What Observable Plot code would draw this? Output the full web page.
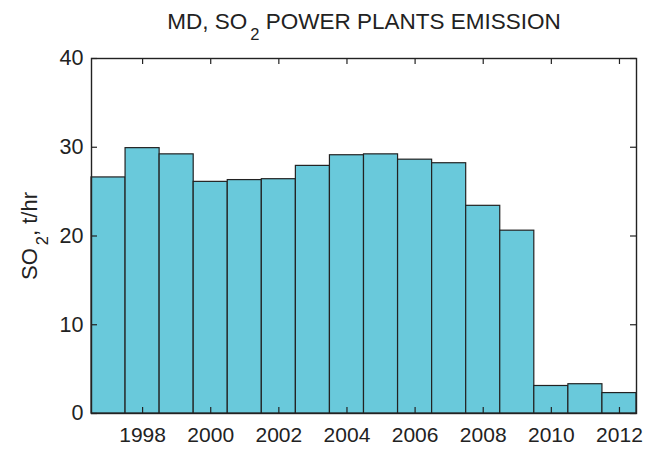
<!DOCTYPE html>
<html>
<head>
<meta charset="utf-8">
<script src="https://cdn.jsdelivr.net/npm/d3@7"></script>
<script src="https://cdn.jsdelivr.net/npm/@observablehq/plot@0.6"></script>
<style>
  html, body { margin: 0; padding: 0; background: #fff; }
  #chart svg { display: block; }
</style>
</head>
<body>
<div id="chart"></div>
<script>
// ---- data ----
const years = [1997, 1998, 1999, 2000, 2001, 2002, 2003, 2004, 2005, 2006, 2007, 2008, 2009, 2010, 2011, 2012];
const so2 = [26.6, 29.9, 29.2, 26.1, 26.3, 26.4, 27.9, 29.1, 29.2, 28.6, 28.2, 23.4, 20.6, 3.1, 3.3, 2.3];
const xTicks = [1998, 2000, 2002, 2004, 2006, 2008, 2010, 2012];
const yTicks = [0, 10, 20, 30, 40];
const titleText = "MD, SO2 POWER PLANTS EMISSION";
const yLabelText = "SO2, t/hr";

const data = years.map((year, i) => ({year, value: so2[i]}));

const W = 646, H = 450;
const mL = 91, mR = 10, mT = 58, mB = 37;
const fw = W - mL - mR, fh = H - mT - mB;
const tickLen = 6;
const ink = "#222";
const font = "'Liberation Sans', Arial, Helvetica, sans-serif";

const chart = Plot.plot({
  width: W,
  height: H,
  marginLeft: mL,
  marginRight: mR,
  marginTop: mT,
  marginBottom: mB,
  style: {fontFamily: font, fontSize: "21px", color: ink, background: "#fff"},
  x: {domain: [1996.5, 2012.5], axis: null},
  y: {domain: [0, 40], axis: null},
  marks: [
    Plot.rectY(data, {x1: d => d.year - 0.5, x2: d => d.year + 0.5, y1: 0, y2: "value",
      fill: "#69c9db", stroke: ink, strokeWidth: 1.2}),
    Plot.tickX(xTicks, {x: d => d, insetTop: fh - tickLen, stroke: ink, strokeWidth: 1.2}),
    Plot.tickX(xTicks, {x: d => d, insetBottom: fh - tickLen, stroke: ink, strokeWidth: 1.2}),
    Plot.tickY(yTicks, {y: d => d, insetRight: fw - tickLen, stroke: ink, strokeWidth: 1.2}),
    Plot.tickY(yTicks, {y: d => d, insetLeft: fw - tickLen, stroke: ink, strokeWidth: 1.2}),
    Plot.frame({stroke: ink, strokeWidth: 1.4}),
    Plot.axisX(xTicks, {tickSize: 0, tickPadding: 14, tickFormat: d => String(d), label: null, fontSize: 21, fill: ink}),
    Plot.axisY(yTicks, {tickSize: 0, tickPadding: 8, tickFormat: d => String(d), label: null, fontSize: 21.5, fill: ink}),
    Plot.text([titleText], {frameAnchor: "top", textAnchor: "middle", lineAnchor: "bottom", dy: -30, fontSize: 22.5, fill: ink}),
    Plot.text([yLabelText], {frameAnchor: "left", textAnchor: "middle", lineAnchor: "bottom", rotate: -90, dx: -55, fontSize: 22, fill: ink})
  ]
});

document.getElementById("chart").appendChild(chart);

// render the "2" of SO2 as a real subscript
function subscriptize(str, before, sub, after, dx) {
  d3.select(chart).selectAll("text").filter(function () { return this.textContent === str; })
    .each(function () {
      const t = d3.select(this);
      t.text(null);
      t.append("tspan").text(before);
      t.append("tspan").attr("dx", dx).attr("dy", 11).attr("font-size", 16.5).text(sub);
      t.append("tspan").attr("dy", -11).text(after);
    });
}
subscriptize(titleText, "MD, SO", "2", " POWER PLANTS EMISSION", 3);
subscriptize(yLabelText, "SO", "2", ", t/hr", 3);
</script>
</body>
</html>
